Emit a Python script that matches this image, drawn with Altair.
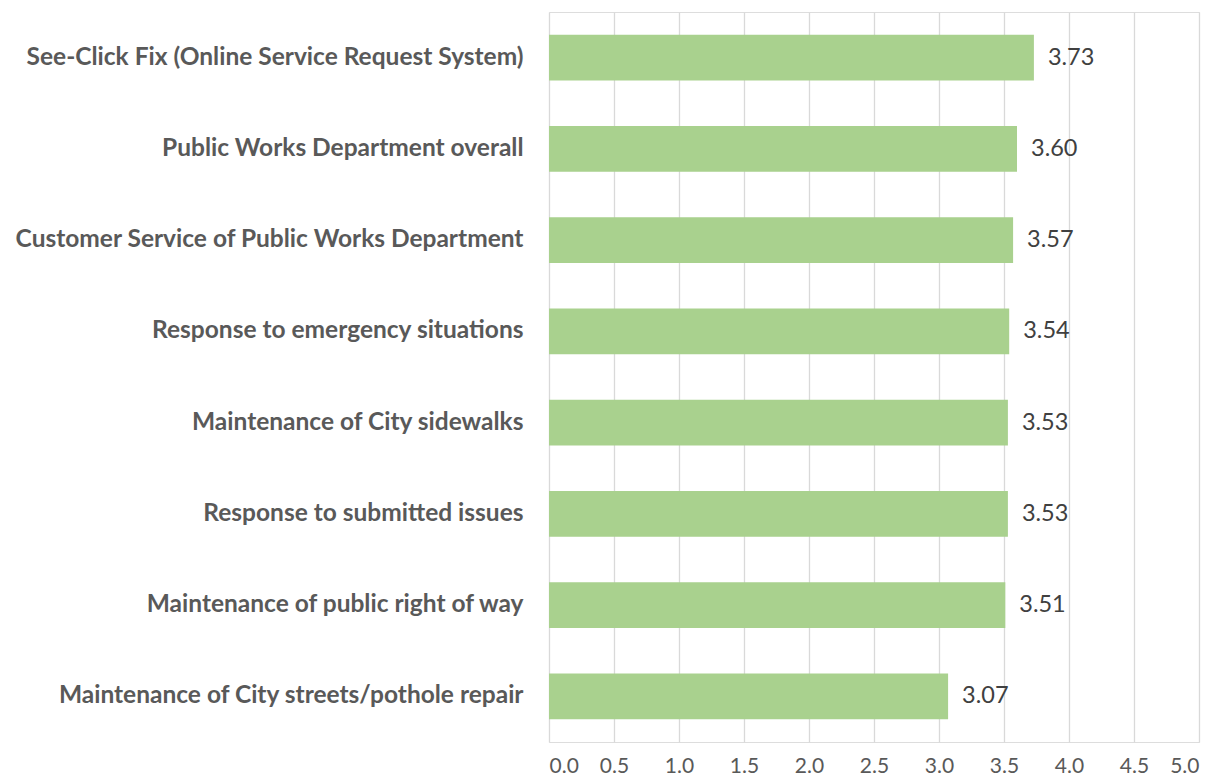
import altair as alt
import pandas as pd

categories = [
    "See-Click Fix (Online Service Request System)",
    "Public Works Department overall",
    "Customer Service of Public Works Department",
    "Response to emergency situations",
    "Maintenance of City sidewalks",
    "Response to submitted issues",
    "Maintenance of public right of way",
    "Maintenance of City streets/pothole repair",
]
values = [3.73, 3.60, 3.57, 3.54, 3.53, 3.53, 3.51, 3.07]
ticks = [0, 0.5, 1.0, 1.5, 2.0, 2.5, 3.0, 3.5, 4.0, 4.5, 5.0]

df = pd.DataFrame({"cat": categories, "val": values})
df["lbl"] = [f"{v:.2f}" for v in values]

FONT = "Lato"

y = alt.Y("cat:N", sort=categories, title=None,
          scale=alt.Scale(paddingInner=0.5, paddingOuter=0.25),
          axis=alt.Axis(labelFont=FONT, labelFontSize=24.5, labelFontWeight="bold",
                        labelColor="#595959", labelLimit=600, labelPadding=26,
                        ticks=False, domain=False, grid=False))
x = alt.X("val:Q", title=None,
          scale=alt.Scale(domain=[0, 5], nice=False),
          axis=alt.Axis(values=ticks, format=".1f", labelFont=FONT, labelFontSize=21,
                        labelColor="#595959", labelPadding=13, ticks=False, domain=False,
                        grid=True, gridColor="#d9d9d9", gridWidth=1.3))

bars = alt.Chart(df).mark_bar(color="#a9d18e").encode(x=x, y=y)
text = alt.Chart(df).mark_text(align="left", dx=14, font=FONT, fontSize=23.5,
                               color="#404040").encode(
    x="val:Q", y=alt.Y("cat:N", sort=categories), text="lbl:N")

chart = (bars + text).properties(
    width=650, height=730,
    autosize=alt.AutoSizeParams(type="none"),
    padding={"left": 541, "top": 4, "right": 8, "bottom": 33},
).configure_view(stroke=None).configure(background="white")

chart.save("out.html", embed_options={"renderer": "svg", "actions": False})
